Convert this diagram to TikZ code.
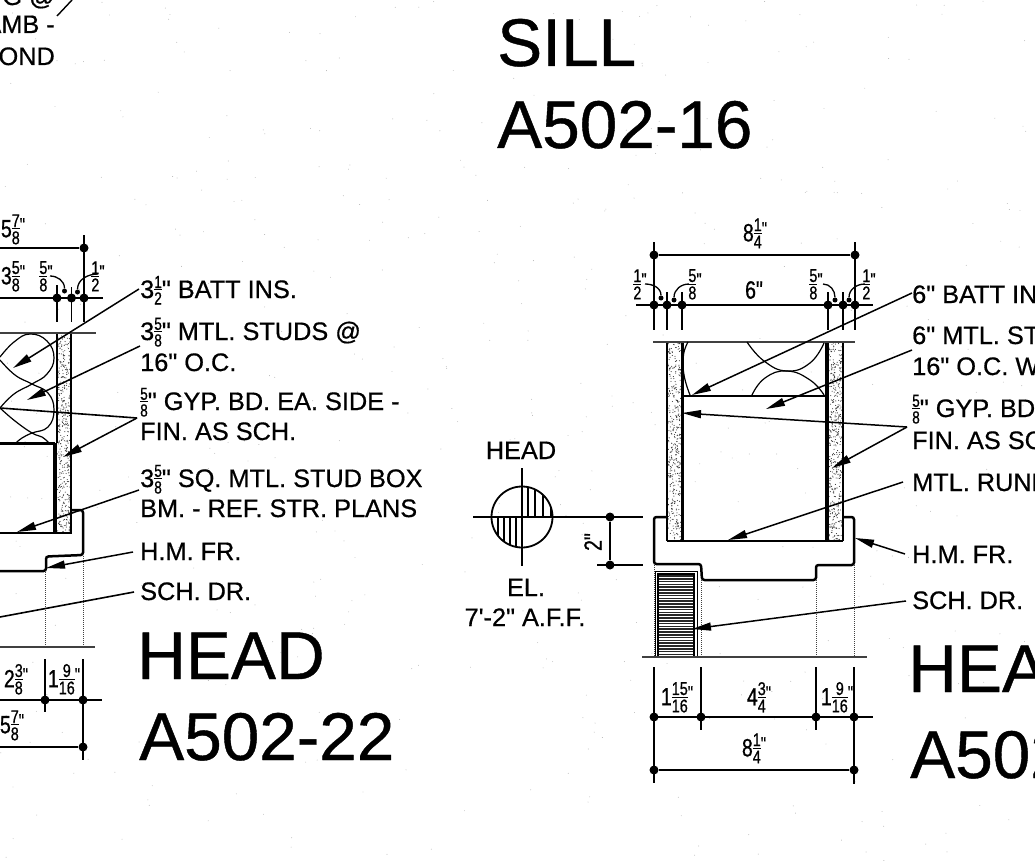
\documentclass[tikz,border=0pt]{standalone}
\usepackage{fontspec}
\usetikzlibrary{arrows.meta}
\newfontfamily\arf[FakeBold=0.6]{Liberation Sans}
\newfontfamily\narf[FakeStretch=0.78,FakeBold=0.7]{Liberation Sans}
\newcommand\stk[2]{\vbox{\offinterlineskip\halign{\hfil##\hfil\cr\rule{0pt}{.73em}#1\cr\noalign{\kern1.4pt\hrule height .9pt\kern1.4pt}\rule{0pt}{.73em}#2\cr}}}
% fraction inside a callout text
\newcommand\lf[2]{\raisebox{-6.5pt}{\fontsize{17.5}{17.5}\narf\selectfont\stk{#1}{#2}}}
% dimension text: whole part, numerator, denominator
\newcommand\dimq{\raisebox{6pt}{\fontsize{19}{19}\narf\selectfont"}}
\newcommand\dm[3]{\narf\fontsize{25}{25}\selectfont #1\raisebox{-7pt}{\fontsize{18.5}{18.5}\selectfont\stk{#2}{#3}}\dimq}
\newcommand\fq[2]{\narf\fontsize{18.5}{18.5}\selectfont\raisebox{-7pt}{\stk{#1}{#2}}\dimq}
\tikzset{
  lab/.style={anchor=base west,inner sep=0pt,font=\arf\fontsize{25.3}{27}\selectfont},
  big/.style={anchor=base west,inner sep=0pt,font=\arf\fontsize{67.5}{70}\selectfont},
  dimt/.style={inner sep=0pt},
  thin line/.style={line width=1.3pt},
  dimline/.style={line width=1.6pt},
  frame line/.style={line width=2.5pt,rounded corners=2.5pt},
  insul/.style={line width=1.2pt},
  leader/.style={line width=1.5pt,-{Stealth[length=19pt,width=8pt,inset=0pt]}},
  dotted line/.style={line width=1pt,densely dotted,gray!50!black},
  dotn/.style={circle,fill=black,inner sep=0pt,minimum size=9pt},
  smalldot/.style={circle,fill=black,inner sep=0pt,minimum size=5pt},
}
\newcommand\stip[5]{\foreach \i in {1,...,#5}{\pgfmathsetmacro\sa{#1+rnd*(#3-#1)}\pgfmathsetmacro\sb{#2+rnd*(#4-#2)}\fill[black!80] (\sa,\sb) circle (.55);}}
\begin{document}
\begin{tikzpicture}[x=1pt,y=-1pt]
\pgfmathsetseed{11}
\useasboundingbox (0,0) rectangle (1035,861);
\clip (0,0) rectangle (1035,861);
\fill[white] (0,0) rectangle (1035,861);
% scan speckle
\foreach \i in {1,...,500}{\pgfmathsetmacro\sa{rnd*1035}\pgfmathsetmacro\sb{rnd*861}\fill[black!30] (\sa,\sb) circle (.45);}

% ---------- titles
\node[big] (silltxt) at (497,66) {SILL};
\node[big] (sillnum) at (497,148) {A502-16};
\node[big] (lhead) at (137,679) {HEAD};
\node[big] (lnum) at (139,760) {A502-22};
\node[big] (rhead) at (908,692) {HEAD};
\node[big] (rnum) at (910,778) {A502-16};

% ---------- top-left fragment
\node[lab,anchor=base east] (tl1) at (55,5) {G @};
\node[lab,anchor=base east] (tl2) at (55,33) {JAMB -};
\node[lab,anchor=base east] (tl3) at (55,65) {BOND};
\coordinate (tlA) at (57,16); \coordinate (tlB) at (72,0);
\draw[line width=1.4pt] (tlA) -- (tlB);

% ---------- left detail: callouts
\node[lab] (l1) at (140,298) {3\lf{1}{2}" BATT INS.};
\node[lab] (l2) at (140,340) {3\lf{5}{8}" MTL. STUDS @};
\node[lab] (l2b) at (140,371) {16" O.C.};
\node[lab] (l3) at (140,410) {\lf{5}{8}" GYP. BD. EA. SIDE -};
\node[lab] (l3b) at (140,440) {FIN. AS SCH.};
\node[lab] (l4) at (140,487) {3\lf{5}{8}" SQ. MTL. STUD BOX};
\node[lab] (l4b) at (140,517) {BM. - REF. STR. PLANS};
\node[lab] (l5) at (140,560) {H.M. FR.};
\node[lab] (l6) at (140,600) {SCH. DR.};

% left detail: stipple board
\stip{57.5}{334}{70.5}{532}{420}{}
\draw[line width=1.8pt] (57,333) -- (57,443);
\draw[line width=3.8pt] (55,443) -- (55,534);
\draw[line width=1.8pt] (71,333) -- (71,534);
\draw[dimline,gray!50!black] (0,333) -- (96,333);
% insulation
\draw[insul] plot[smooth,tension=.75] coordinates {(0,357) (14,342) (30,334) (47,341) (54,358) (47,374) (32,384) (14,394) (0,408)};
\draw[insul] plot[smooth,tension=.75] coordinates {(0,360) (15,375) (32,384) (48,393) (54,410) (48,427) (32,433) (22,438) (16,443)};
\draw[insul] plot[smooth,tension=.75] coordinates {(0,408) (15,421) (32,433) (42,437) (49,443)};
\draw[line width=2.2pt] (0,443.5) -- (55,443.5);
\draw[line width=2pt] (0,533) -- (71,533);
% left frame
\draw[frame line] (71,510) -- (83,510) -- (83,555) -- (46,556.5) -- (46,571) -- (0,571);
% dotted
\draw[dotted line] (45,572) -- (45,647);
\draw[dotted line] (83,556) -- (83,647);
\draw[dimline,gray!50!black] (0,647) -- (95,647);
% left dimensions
\coordinate (ld1s) at (0,248);\node[dotn] (ld1) at (84,248) {};
\draw[dimline] (ld1s) -- (ld1);
\coordinate (ld1a) at (84,235); \coordinate (ld1b) at (84,322);
\draw[dimline] (ld1a) -- (ld1b);
\coordinate (ld2s) at (0,298); \coordinate (ld2e) at (103,298);
\draw[dimline] (ld2s) -- (ld2e);
\node[dotn] (ld2a) at (57,298) {}; \node[dotn] (ld2b) at (71.5,298) {}; \node[dotn] (ld2c) at (84,298) {};
\coordinate (lt1a) at (57,285); \coordinate (lt1b) at (57,322);
\coordinate (lt2a) at (71.5,287); \coordinate (lt2b) at (71.5,322);
\draw[dimline] (lt1a) -- (lt1b); \draw[dimline] (lt2a) -- (lt2b);
\node[smalldot] (lsd1) at (64.5,291) {}; \node[smalldot] (lsd2) at (77.5,292) {};
\coordinate (lc1) at (50,276); \coordinate (lc2) at (98,274);
\draw[thin line] (lc1) to[out=0,in=90] (lsd1);
\draw[thin line] (lc2) to[out=180,in=90] (lsd2);
\node[dimt] (ll1) at (13,229) {\dm{5}{7}{8}};
\node[dimt] (ll2) at (13,276) {\dm{3}{5}{8}};
\node[dimt] (ll3) at (46,276) {\fq{5}{8}};
\node[dimt] (ll4) at (98,276) {\fq{1}{2}};
\coordinate (lb1) at (45,659); \coordinate (lb1e) at (45,712);
\coordinate (lb2) at (83,659); \coordinate (lb2e) at (83,760);
\draw[dimline] (lb1) -- (lb1e); \draw[dimline] (lb2) -- (lb2e);
\coordinate (lds) at (0,700); \coordinate (lde) at (102,700);
\draw[dimline] (lds) -- (lde);
\node[dotn] (ldd1) at (45,700) {}; \node[dotn] (ldd2) at (83,700) {};
\coordinate (lds2) at (0,747); \node[dotn] (ldd3) at (83,747) {};
\draw[dimline] (lds2) -- (ldd3);
\node[dimt] (ll5) at (16,679) {\dm{2}{3}{8}};
\node[dimt] (ll6) at (64,679) {\dm{1}{9}{16}};
\node[dimt] (ll7) at (12,725) {\dm{5}{7}{8}};
% left leaders
\coordinate (lq1) at (139,289); \coordinate (lt1) at (13,368);
\coordinate (lq2) at (140,346); \coordinate (lt2) at (27,400);
\coordinate (lq3) at (137,418); \coordinate (lt3a) at (0,408); \coordinate (lt3b) at (63,457);
\coordinate (lq4) at (139,490); \coordinate (lt4) at (17,532);
\coordinate (lq5) at (133,552); \coordinate (lt5) at (46,568);
\coordinate (lq6) at (134,592); \coordinate (lt6) at (0,617);
\draw[leader] (lq1) -- (lt1);
\draw[leader] (lq2) -- (lt2);
\draw[dimline] (lq3) -- (lt3a);
\draw[leader] (lq3) -- (lt3b);
\draw[leader] (lq4) -- (lt4);
\draw[leader] (lq5) -- (lt5);
\draw[dimline] (lq6) -- (lt6);

% ---------- elevation marker
\node[lab,anchor=base] (mh) at (521,459) {HEAD};
\node[lab,anchor=base] (me1) at (526,596) {EL.};
\node[lab,anchor=base] (me2) at (525,626) {7'-2" A.F.F.};
\node[circle,draw,line width=1.8pt,minimum size=61pt,inner sep=0pt] (mc) at (522,517) {};
\coordinate (mv1) at (522,468); \coordinate (mv2) at (522,566);
\coordinate (mh1) at (473,517); \coordinate (mh2) at (643,517);
\coordinate (mh3) at (597,565); \coordinate (mh4) at (643,565);
\draw[dimline] (mv1) -- (mv2);
\draw[dimline] (mh1) -- (mh2);
\draw[dimline] (mh3) -- (mh4);
\begin{scope}
\clip (522,517) circle (30.5);
\foreach \xx in {528,535,543,551}{\draw[line width=1.2pt] (\xx,487) -- (\xx,517);}
\foreach \xx in {498,504,510,516}{\draw[line width=1.2pt] (\xx,517) -- (\xx,548);}
\end{scope}
\node[dotn] (md1) at (610,517) {}; \node[dotn] (md2) at (610,565) {};
\draw[dimline] (md1) -- (md2);
\node[dimt,rotate=90] (m2) at (593,542) {\narf\fontsize{25}{25}\selectfont 2"};

% ---------- right detail: stipple and walls
\stip{667}{343}{681}{540}{420}{}
\stip{829}{343}{842}{540}{420}{}
\draw[line width=2pt] (667,342) -- (667,541);
\draw[line width=3pt] (682,342) -- (682,541);
\draw[line width=3.6pt] (827,342) -- (827,541);
\draw[line width=1.8pt] (843,342) -- (843,541);
\draw[dimline,gray!50!black] (653,342) -- (855,342);
\draw[line width=2pt] (667,541) -- (843,541);
\draw[line width=2.4pt] (682,396) -- (827,396);
% insulation
\draw[insul] plot[smooth,tension=.8] coordinates {(688,342) (683.5,355) (684,375) (690,395)};
\draw[insul] plot[smooth,tension=.8] coordinates {(747,342) (764,361) (787,371) (810,363) (824,343)};
\draw[insul] plot[smooth,tension=.8] coordinates {(752,395) (765,378) (787,371) (810,380) (824,395)};
% right frame
\draw[frame line] (667,517) -- (654,517) -- (654,564) -- (701,564) -- (702,580) -- (816,580) -- (816,565) -- (854,565) -- (854,517) -- (843,517);
% dotted
\draw[dotted line] (654,565) -- (654,656);
\draw[dotted line] (701,580) -- (701,656);
\draw[dotted line] (816,580) -- (816,656);
\draw[dotted line] (854,565) -- (854,656);
% door
\node[draw,line width=1.2pt,anchor=north west,minimum width=42pt,minimum height=86pt,inner sep=0pt] (door) at (655,571) {};
\draw[line width=1.2pt] (658,574) rectangle (694,657);
\foreach \yy in {576,578.8,...,655}{\draw[line width=1.6pt,black!85] (659,\yy) -- (693,\yy);}
\draw[dimline,gray!50!black] (642,657) -- (867,657);
% right dimensions
\node[dotn] (rd1) at (654,255) {}; \node[dotn] (rd2) at (855,255) {};
\draw[dimline] (rd1) -- (rd2);
\coordinate (rt1) at (654,242); \coordinate (rt1e) at (654,330);
\coordinate (rt2) at (855,242); \coordinate (rt2e) at (855,330);
\draw[dimline] (rt1) -- (rt1e); \draw[dimline] (rt2) -- (rt2e);
\coordinate (rs) at (636,305); \coordinate (re) at (873,305);
\draw[dimline] (rs) -- (re);
\foreach \nm/\xx in {a/654,b/667,c/682,d/828,e/843,f/855}{\node[dotn] (rp\nm) at (\xx,305) {};}
\foreach \xx in {667,682,828,843}{\draw[dimline] (\xx,292) -- (\xx,330);}
\node[smalldot] (rsd1) at (661,298) {}; \node[smalldot] (rsd2) at (674,300) {};
\node[smalldot] (rsd3) at (835,300) {}; \node[smalldot] (rsd4) at (849,300) {};
\coordinate (rc1) at (645,284); \coordinate (rc2) at (689,284); \coordinate (rc3) at (823,284); \coordinate (rc4) at (865,284);
\draw[thin line] (rc1) to[out=0,in=90] (rsd1);
\draw[thin line] (rc2) to[out=180,in=90] (rsd2);
\draw[thin line] (rc3) to[out=0,in=90] (rsd3);
\draw[thin line] (rc4) to[out=180,in=90] (rsd4);
\node[dimt] (rl1) at (755,233) {\dm{8}{1}{4}};
\node[dimt] (rl2) at (754,290) {\narf\fontsize{25}{25}\selectfont 6"};
\node[dimt] (rl3) at (640,284) {\fq{1}{2}};
\node[dimt] (rl4) at (695,284) {\fq{5}{8}};
\node[dimt] (rl5) at (816,284) {\fq{5}{8}};
\node[dimt] (rl6) at (869,284) {\fq{1}{2}};
\foreach \xx/\yy in {654/783,701/730,816/730,854/784}{\draw[dimline] (\xx,667) -- (\xx,\yy);}
\coordinate (rb1) at (654,717); \coordinate (rb2) at (873,717);
\draw[dimline] (rb1) -- (rb2);
\foreach \nm/\xx in {a/654,b/701,c/816,d/854}{\node[dotn] (rq\nm) at (\xx,717) {};}
\node[dotn] (rw1) at (654,770) {}; \node[dotn] (rw2) at (854,770) {};
\draw[dimline] (rw1) -- (rw2);
\node[dimt] (rl7) at (677,697) {\dm{1}{15}{16}};
\node[dimt] (rl8) at (759,697) {\dm{4}{3}{4}};
\node[dimt] (rl9) at (837,697) {\dm{1}{9}{16}};
\node[dimt] (rl10) at (754,748) {\dm{8}{1}{4}};
% right callouts
\node[lab] (r1) at (912,303) {6" BATT INS.};
\node[lab] (r2) at (912,344) {6" MTL. STUDS @};
\node[lab] (r2b) at (912,375) {16" O.C. W/};
\node[lab] (r3) at (912,417) {\lf{5}{8}" GYP. BD. EA. SIDE -};
\node[lab] (r3b) at (912,449) {FIN. AS SCH.};
\node[lab] (r4) at (912,491) {MTL. RUNNER};
\node[lab] (r5) at (912,563) {H.M. FR.};
\node[lab] (r6) at (912,609) {SCH. DR.};
\coordinate (rq1) at (912,293); \coordinate (rt1x) at (692,395);
\coordinate (rq2) at (912,350); \coordinate (rt2x) at (766,409);
\coordinate (rq3) at (907,427); \coordinate (rt3a) at (682,413); \coordinate (rt3b) at (832,468);
\coordinate (rq4) at (903,482); \coordinate (rt4) at (728,540);
\coordinate (rq5) at (905,554); \coordinate (rt5) at (855,538);
\coordinate (rq6) at (906,601); \coordinate (rt6) at (692,629);
\draw[leader] (rq1) -- (rt1x);
\draw[leader] (rq2) -- (rt2x);
\draw[leader] (rq3) -- (rt3a);
\draw[leader] (rq3) -- (rt3b);
\draw[leader] (rq4) -- (rt4);
\draw[leader] (rq5) -- (rt5);
\draw[leader] (rq6) -- (rt6);
\end{tikzpicture}
\end{document}
